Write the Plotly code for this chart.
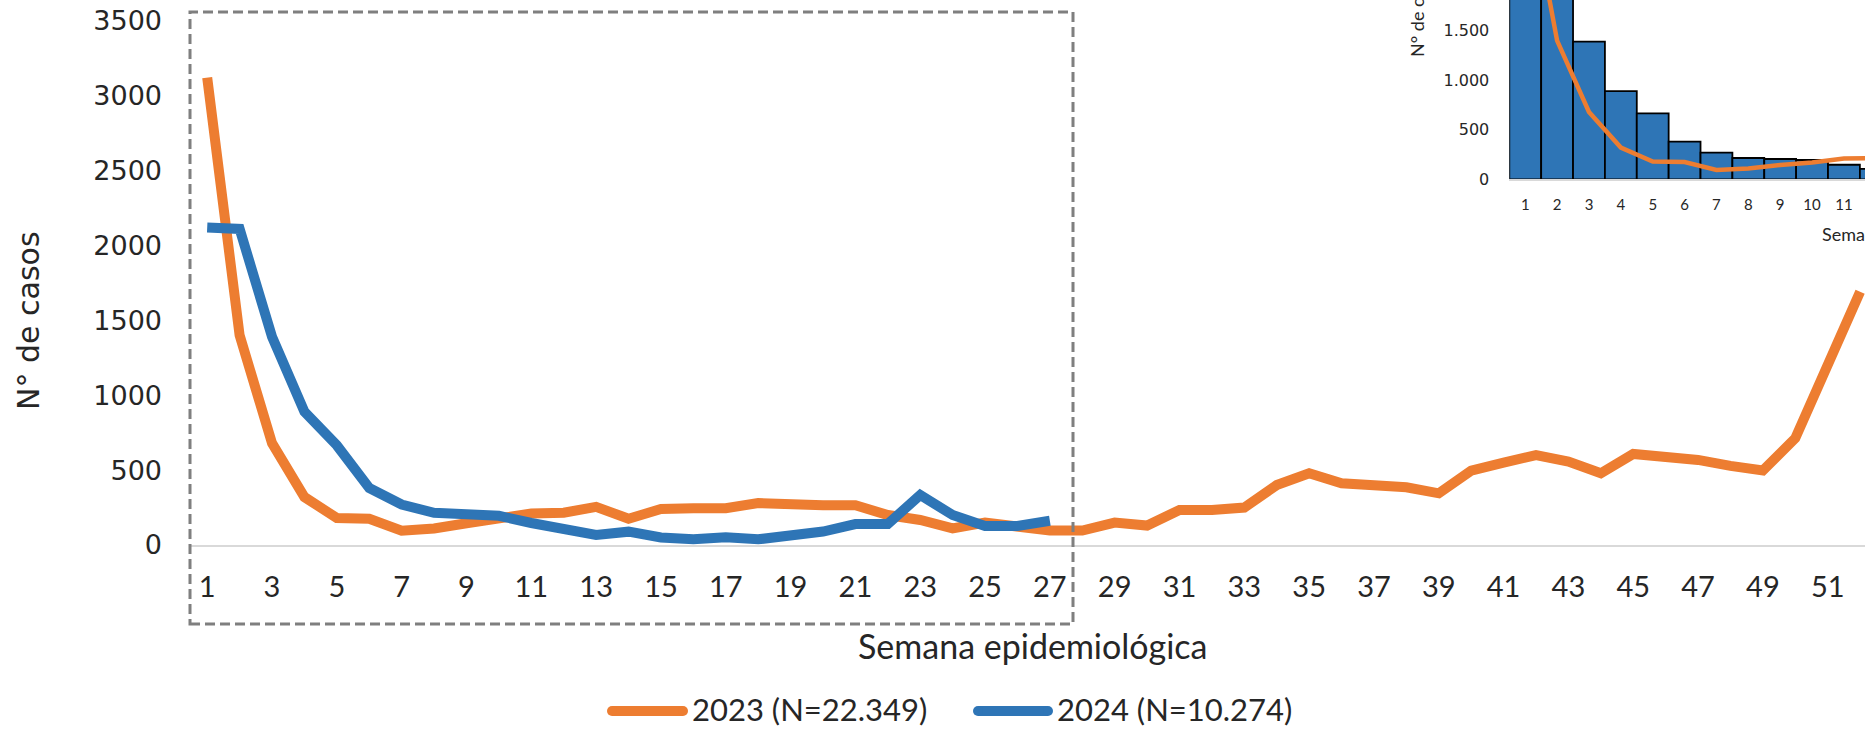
import plotly.graph_objects as go

# ---------------- data ----------------
weeks_2023 = list(range(1, 53))
cases_2023 = [3120, 1400, 680, 320, 180, 175, 95, 110, 145, 170,
              210, 215, 255, 175, 240, 245, 245, 280, 265, 265,
              265, 200, 167, 111, 150, 130, 96, 96, 150, 130,
              234, 234, 250, 400, 479, 412, 400, 385, 345, 497,
              550, 600, 557, 479, 608, 590, 568, 528, 497, 713,
              1216, 1690]
weeks_2024 = list(range(1, 28))
cases_2024 = [2120, 2110, 1390, 890, 665, 380, 270, 215, 205, 195,
              147, 105, 67, 89, 50, 38, 51, 38, 67, 90,
              140, 140, 334, 200, 127, 127, 162]
series_names = ["2023 (N=22.349)", "2024 (N=10.274)"]
main_yticks = [0, 500, 1000, 1500, 2000, 2500, 3000, 3500]
main_xticks = list(range(1, 53, 2))
inset_xticks = list(range(1, 28))
inset_yticks = [0, 500, 1000, 1500]
inset_yticklabels = ["0", "500", "1.000", "1.500"]
x_title = "Semana epidemiológica"
y_title = "N° de casos"

# ---------------- style ----------------
W, H = 1865, 729
ORANGE = "#ED7D31"
BLUE = "#2E75B6"
TXT = "#262626"
SANS = "Lato, Open Sans, sans-serif"
WIDE = "DejaVu Sans, sans-serif"


def px(x):
    return x / W


def py(y):
    return 1 - y / H


# main plot geometry (pixels)
main_left, main_zero, week_px, unit_px = 191, 545, 32.41, 0.1498
# inset geometry (pixels)
ins_left, ins_zero, ins_week_px, ins_unit_px = 1509.3, 179.3, 31.87, 0.09906

fig = go.Figure()
fig.add_trace(go.Scatter(x=weeks_2023, y=cases_2023, mode="lines", name=series_names[0],
                         line=dict(color=ORANGE, width=10), xaxis="x", yaxis="y",
                         showlegend=False))
fig.add_trace(go.Scatter(x=weeks_2024, y=cases_2024, mode="lines", name=series_names[1],
                         line=dict(color=BLUE, width=10), xaxis="x", yaxis="y",
                         showlegend=False))
# inset
fig.add_trace(go.Bar(x=weeks_2024, y=cases_2024, name=series_names[1],
                     marker=dict(color=BLUE, line=dict(color="black", width=1.8)),
                     xaxis="x2", yaxis="y2", showlegend=False))
fig.add_trace(go.Scatter(x=weeks_2023, y=cases_2023, mode="lines", name=series_names[0],
                         line=dict(color=ORANGE, width=4.5), xaxis="x2", yaxis="y2",
                         showlegend=False))

fig.update_layout(
    width=W, height=H, autosize=False,
    margin=dict(l=0, r=0, t=0, b=0, pad=0),
    paper_bgcolor="white", plot_bgcolor="rgba(0,0,0,0)",
    bargap=0,
    xaxis=dict(domain=[px(main_left), 1], range=[0.5, 0.5 + (W - main_left) / week_px],
               tickvals=main_xticks, ticktext=[str(v) for v in main_xticks],
               showline=True, linecolor="#d9d9d9", linewidth=2, showgrid=False,
               zeroline=False, ticks="", ticklabelstandoff=15, automargin=False,
               tickfont=dict(family=SANS, size=29, color=TXT), anchor="y"),
    yaxis=dict(domain=[py(main_zero), 1], range=[0, main_zero / unit_px],
               tickvals=main_yticks, ticktext=[str(v) for v in main_yticks],
               showline=False, showgrid=False, zeroline=False, ticks="",
               ticklabelstandoff=28, automargin=False,
               tickfont=dict(family=WIDE, size=27, color=TXT), anchor="x"),
    xaxis2=dict(domain=[px(ins_left), 1], range=[0.5, 0.5 + (W - ins_left) / ins_week_px],
                tickvals=inset_xticks, ticktext=[str(v) for v in inset_xticks],
                showline=True, linecolor="#d9d9d9", linewidth=1.5, showgrid=False,
                zeroline=False, ticks="", ticklabelstandoff=11, automargin=False,
                tickfont=dict(family=SANS, size=15, color=TXT), anchor="y2"),
    yaxis2=dict(domain=[py(ins_zero), 1], range=[0, ins_zero / ins_unit_px],
                tickvals=inset_yticks, ticktext=inset_yticklabels,
                showline=False, showgrid=False, zeroline=False, ticks="",
                ticklabelstandoff=19, automargin=False,
                tickfont=dict(family=WIDE, size=16, color=TXT), anchor="x2"),
)

annotations = [
    dict(text=y_title, x=px(28), y=py(321), textangle=-90,
         font=dict(family=WIDE, size=30, color=TXT)),
    dict(text=x_title, x=px(1033), y=py(645),
         font=dict(family=SANS, size=34, color=TXT)),
    dict(text=series_names[0], x=px(690), y=py(709), xanchor="left",
         font=dict(family=SANS, size=31, color=TXT)),
    dict(text=series_names[1], x=px(1055), y=py(709), xanchor="left",
         font=dict(family=SANS, size=31, color=TXT)),
    dict(text=y_title, x=px(1417), y=py(10), textangle=-90,
         font=dict(family=SANS, size=18, color=TXT)),
    dict(text=x_title, x=px(1820), y=py(234), xanchor="left",
         font=dict(family=SANS, size=18, color=TXT)),
]
for a in annotations:
    a.setdefault("xanchor", "center")
    a.update(xref="paper", yref="paper", yanchor="middle", showarrow=False)
fig.update_layout(annotations=annotations)

shapes = [
    dict(type="rect", xref="paper", yref="paper", x0=px(190), x1=px(1073),
         y0=py(624), y1=py(12), line=dict(color="#7f7f7f", width=3, dash="10px,5px"),
         fillcolor="rgba(0,0,0,0)"),
]
for (xa, xb, col) in [(607, 688, ORANGE), (973, 1053, BLUE)]:
    r = 5
    shapes.append(dict(type="line", xref="paper", yref="paper", x0=px(xa + r), x1=px(xb - r),
                       y0=py(711), y1=py(711), line=dict(color=col, width=2 * r)))
    for cx in (xa + r, xb - r):
        shapes.append(dict(type="circle", xref="paper", yref="paper",
                           x0=px(cx - r), x1=px(cx + r), y0=py(711 + r), y1=py(711 - r),
                           fillcolor=col, line=dict(width=0)))
fig.update_layout(shapes=shapes)

fig.write_html("out.html",
               config={"displayModeBar": False, "staticPlot": True},
               post_script="document.body.style.margin='0';document.body.style.overflow='hidden';")
